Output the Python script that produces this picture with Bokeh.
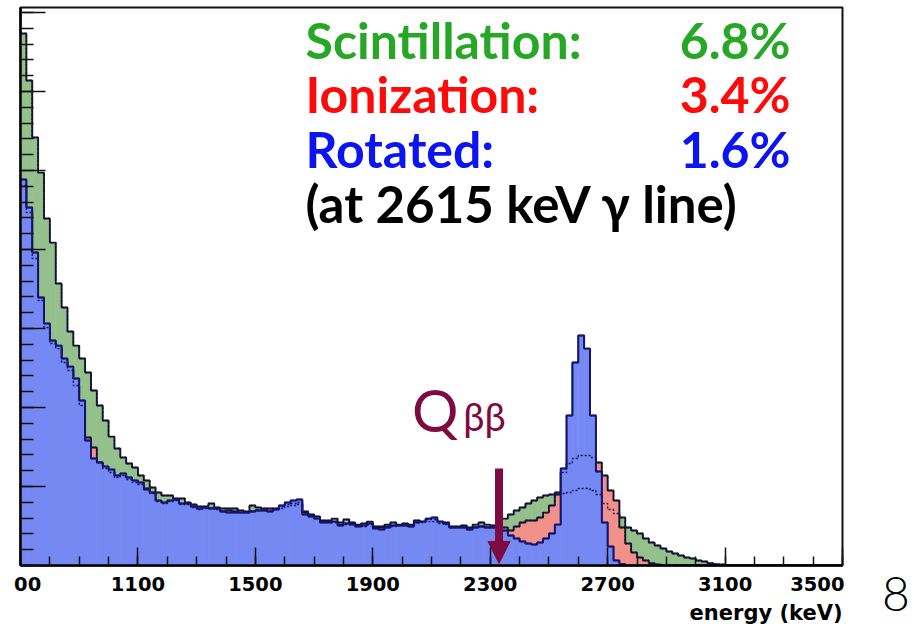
import numpy as np
from bokeh.plotting import figure
from bokeh.models import Range1d, FixedTicker, Label, Arrow, NormalHead, LinearAxis, Title, Div
from bokeh.layouts import row
from bokeh.embed import file_html
from bokeh.resources import INLINE

# ---------------- data ----------------
energy_start = 700      # keV, first bin edge
bin_width = 20          # keV
n_bins = 140            # 700 .. 3500 keV

scintillation = [
    3367, 3070, 2709, 2487, 2196, 2044, 1785, 1633, 1481, 1392,
    1310, 1222, 1108, 1013, 918, 816, 741, 684, 646, 620,
    570, 538, 494, 462, 443, 443, 424, 424, 399, 386,
    373, 373, 392, 367, 361, 361, 361, 348, 342, 380,
    367, 361, 348, 361, 373, 386, 392, 399, 342, 323,
    310, 285, 285, 297, 272, 291, 272, 259, 266, 278,
    247, 247, 259, 272, 259, 266, 259, 285, 278, 291,
    291, 278, 272, 247, 247, 253, 241, 259, 272, 259,
    253, 272, 297, 323, 348, 367, 392, 411, 430, 443,
    449, 462, 456, 462, 475, 487, 487, 475, 449, 392,
    354, 329, 304, 241, 222, 203, 171, 146, 127, 108,
    89, 76, 63, 51, 44, 32, 25, 15, 9, 6,
]
ionization = [
    2405, 2234, 1943, 1677, 1506, 1405, 1373, 1285, 1234, 1139,
    1013, 810, 747, 652, 614, 589, 557, 570, 544, 525,
    513, 487, 456, 405, 392, 405, 411, 386, 386, 367,
    354, 361, 361, 354, 342, 348, 342, 335, 335, 342,
    348, 348, 361, 354, 361, 373, 380, 386, 335, 316,
    297, 278, 278, 272, 259, 259, 266, 253, 247, 259,
    241, 241, 247, 247, 253, 253, 247, 272, 272, 278,
    278, 266, 259, 241, 241, 241, 228, 241, 247, 241,
    241, 247, 241, 222, 247, 272, 285, 285, 304, 335,
    380, 449, 589, 646, 677, 696, 696, 684, 652, 570,
    475, 411, 241, 139, 82, 51, 32, 15, 6, 0,
]
rotated = [
    2443, 2266, 1981, 1696, 1532, 1424, 1392, 1310, 1259, 1184,
    1044, 791, 677, 652, 627, 608, 570, 582, 557, 538,
    525, 481, 462, 411, 399, 411, 418, 392, 392, 373,
    361, 367, 361, 361, 342, 335, 335, 335, 335, 342,
    348, 348, 342, 354, 380, 399, 411, 418, 323, 310,
    297, 272, 272, 278, 253, 266, 259, 247, 253, 266,
    234, 228, 241, 253, 253, 253, 247, 272, 278, 297,
    304, 278, 266, 241, 241, 241, 228, 241, 247, 241,
    241, 241, 222, 190, 171, 152, 139, 133, 146, 171,
    203, 259, 614, 949, 1285, 1456, 1373, 949, 595, 272,
    120, 32, 9,
]

x_ticks = [700, 1100, 1500, 1900, 2300, 2700, 3100, 3500]
x_minor = list(range(700, 3501, 100))
y_ticks = list(range(0, 3501, 500))
y_minor = list(range(0, 3532, 100))

legend_names = ["Scintillation:", "Ionization:", "Rotated:"]
legend_values = ["6.8%", "3.4%", "1.6%"]
legend_note = "(at 2615 keV \u03b3 line)"
q_value_keV = 2330
page_number = "8"

# ---------------- figure ----------------
def padded(v):
    a = np.zeros(n_bins)
    a[:len(v)] = v
    return a

edges = energy_start + bin_width * np.arange(n_bins + 1)

p = figure(width=844, height=624, x_range=Range1d(700, 3500), y_range=Range1d(0, 3532),
           output_backend="svg", toolbar_location=None,
           min_border_left=20, min_border_right=2, min_border_top=7, min_border_bottom=59)
p.xgrid.visible = False
p.ygrid.visible = False
p.outline_line_color = "#111111"
p.outline_line_width = 2
p.background_fill_color = "white"
p.border_fill_color = "white"

hist = [
    (padded(scintillation), "#94c08c", "#1a1a1a"),
    (padded(ionization), "#f2908a", "#1a1a1a"),
    (padded(rotated), "#7589f4", "#14146e"),
]
for vals, fc, lc in hist:
    p.quad(left=edges[:-1], right=edges[1:], bottom=0, top=vals,
           fill_color=fc, line_color=fc, line_width=0.6)
    p.step(x=edges, y=np.append(vals, vals[-1]), mode="after", line_color=lc, line_width=1.9)

# outlines of the hidden histograms show through the blue hatch as dotted lines
for vals, _, _ in hist[:2]:
    p.step(x=edges, y=np.append(vals, vals[-1]), mode="after",
           line_color="#0c0c5c", line_width=1.4, line_dash="2 2")
p.step(x=edges, y=np.append(hist[2][0], hist[2][0][-1]), mode="after",
       line_color="#14146e", line_width=1.5)

# x axis
p.xaxis.ticker = FixedTicker(ticks=x_ticks, minor_ticks=x_minor)
p.xaxis.major_label_overrides = {700: "\u200700"}
p.xaxis.major_label_text_font = "DejaVu Sans"
p.xaxis.major_label_text_font_style = "bold"
p.xaxis.major_label_text_font_size = "19.5px"
p.xaxis.major_label_text_color = "black"
p.xaxis.major_label_standoff = 7
p.xaxis.major_tick_in = 18
p.xaxis.major_tick_out = 0
p.xaxis.minor_tick_in = 9
p.xaxis.minor_tick_out = 0
p.xaxis.axis_line_width = 2.5
p.xaxis.axis_line_color = "black"
p.xaxis.major_tick_line_color = "#111111"
p.xaxis.minor_tick_line_color = "#111111"
p.xaxis.major_tick_line_width = 1.5
p.xaxis.minor_tick_line_width = 1.5

# y axis: unlabeled; short ticks every 100, long ticks every 500
p.yaxis.ticker = FixedTicker(ticks=[], minor_ticks=y_minor)
p.yaxis.major_label_standoff = 0
p.yaxis.major_tick_in = 0
p.yaxis.major_tick_out = 0
p.yaxis.minor_tick_in = 13
p.yaxis.minor_tick_out = 0
p.yaxis.axis_line_width = 2.5
p.yaxis.axis_line_color = "black"
p.yaxis.minor_tick_line_color = "#111111"
p.yaxis.minor_tick_line_width = 1.5
long_ticks = LinearAxis(ticker=FixedTicker(ticks=[], minor_ticks=y_ticks),
                        major_label_standoff=0, major_tick_in=0, major_tick_out=0,
                        minor_tick_in=25, minor_tick_out=0, minor_tick_line_width=1.5,
                        minor_tick_line_color="#111111", axis_line_color=None)
p.add_layout(long_ticks, "left")

# axis title
p.add_layout(Title(text="energy (keV)", align="right", text_font="DejaVu Sans",
                   text_font_style="bold", text_font_size="21px", text_color="black",
                   standoff=0, offset=0), "below")

# resolution text
colors = ["#26a826", "#ff0a0a", "#0c14f2"]
baselines = [3327, 2985, 2637]
for name, val, c, yb in zip(legend_names, legend_values, colors, baselines):
    p.add_layout(Label(x=1671, y=yb, text=name, text_align="left", text_baseline="alphabetic",
                       text_font="Lato", text_font_style="bold", text_font_size="50px",
                       text_color=c))
    p.add_layout(Label(x=3323, y=yb, text=val, text_align="right", text_baseline="alphabetic",
                       text_font="Lato", text_font_style="bold", text_font_size="50px",
                       text_color=c))
p.add_layout(Label(x=1671, y=2290, text=legend_note, text_align="left",
                   text_baseline="alphabetic", text_font="Lato", text_font_style="bold",
                   text_font_size="51px", text_color="black"))

# Q-value marker
maroon = "#7d0a40"
p.add_layout(Label(x=2034, y=985, text="Q", text_align="left", text_baseline="alphabetic",
                   text_font="Lato", text_font_size="58px", text_color=maroon))
p.add_layout(Label(x=2208, y=945, text="\u03b2\u03b2", text_align="left",
                   text_baseline="alphabetic", text_font="Lato", text_font_size="38px",
                   text_color=maroon))
p.add_layout(Arrow(end=NormalHead(size=22, fill_color=maroon, line_color=maroon),
                   x_start=q_value_keV, y_start=614, x_end=q_value_keV, y_end=13,
                   line_color=maroon, line_width=8))

# slide page number, to the right of the chart
side = Div(text=('<div style="font-family: Lato; font-weight: 300; font-size: 48px; '
                 'line-height: 48px; padding-top: 569px; padding-left: 38px; color: black;">'
                 + page_number + '</div>'),
           width=70, height=624, margin=0)

open("out.html", "w").write(file_html(row(p, side), INLINE))
